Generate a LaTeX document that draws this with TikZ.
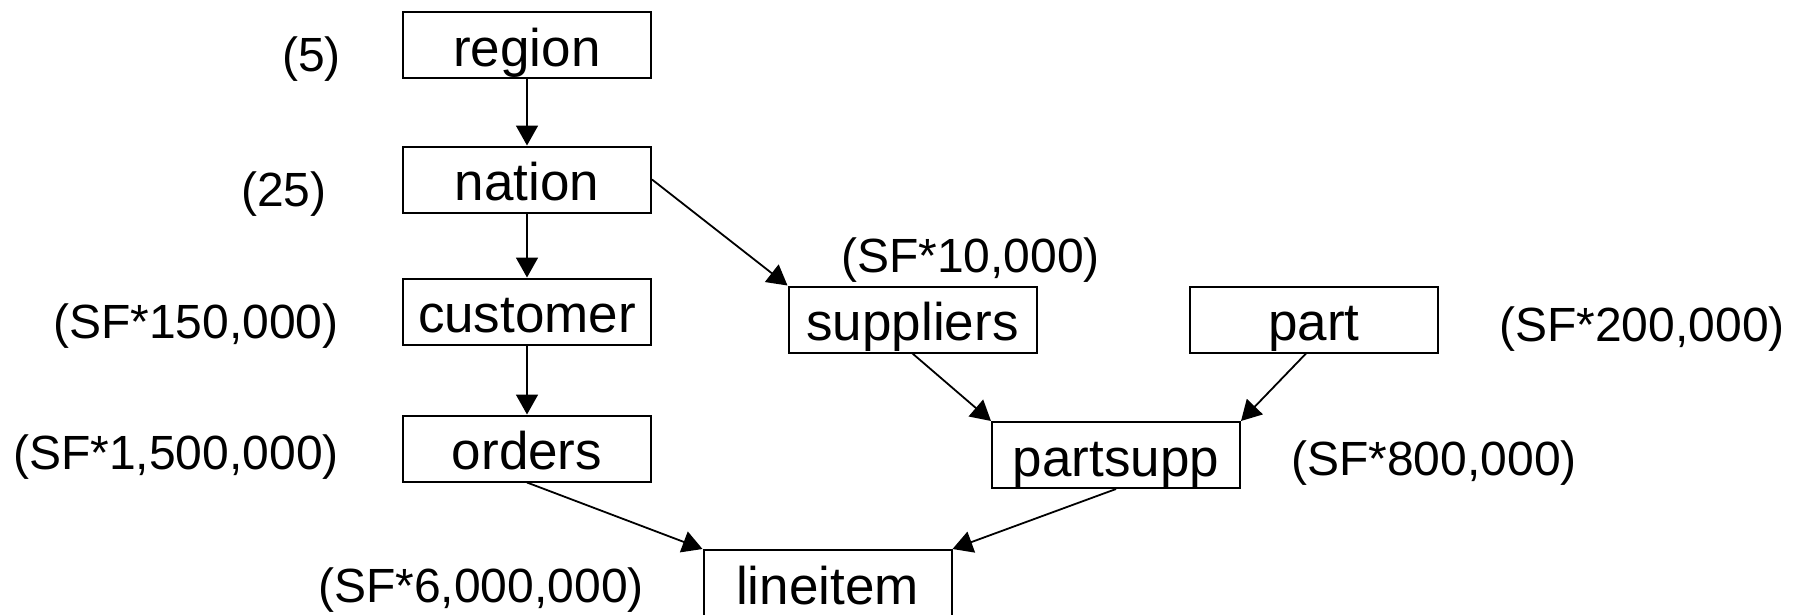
\documentclass[tikz,border=0pt]{standalone}
\usepackage{fontspec}
\setmainfont{Liberation Sans}
\usetikzlibrary{arrows.meta}
\begin{document}
\begin{tikzpicture}[x=1pt,y=-1pt,
  tbl/.style={draw, line width=2pt, inner sep=0pt, minimum width=248pt,
    text height=54pt, text depth=12pt, font=\fontsize{53}{60}\selectfont},
  card/.style={anchor=west, inner sep=0pt, font=\fontsize{48}{56}\selectfont},
  link/.style={line width=1.8pt, -{Triangle[length=20pt,width=22pt]}}]
\useasboundingbox (0,0) rectangle (1801,614);
\clip (0,0) rectangle (1801,614);
% tables
\node[tbl] (region)    at (527,45)    {region};
\node[tbl] (nation)    at (527,179.5) {nation};
\node[tbl] (customer)  at (527,311.5) {customer};
\node[tbl] (orders)    at (527,448.5) {orders};
\node[tbl] (suppliers) at (912.5,319.5) {suppliers};
\node[tbl] (part)      at (1314,319.5) {part};
\node[tbl] (partsupp)  at (1116,455)  {partsupp};
\node[tbl] (lineitem)  at (827.5,583) {lineitem};
% cardinalities
\node[card] (c5)   at (282,59)  {(5)};
\node[card] (c25)  at (241,194) {(25)};
\node[card] (c150) at (53,326)  {(SF*150,000)};
\node[card] (c1500) at (13,457) {(SF*1,500,000)};
\node[card] (c10)  at (841,260) {(SF*10,000)};
\node[card] (c200) at (1499,329) {(SF*200,000)};
\node[card] (c800) at (1291,463) {(SF*800,000)};
\node[card] (c6000) at (318,590) {(SF*6,000,000)};
% connectors
\coordinate (partout) at ([xshift=-8pt]part.south);
\draw[link] (region.south) -- (nation.north);
\draw[link] (nation.south) -- (customer.north);
\draw[link] (customer.south) -- (orders.north);
\draw[link] (nation.east) -- (suppliers.north west);
\draw[link] (suppliers.south) -- (partsupp.north west);
\draw[link] (partout) -- (partsupp.north east);
\draw[link] (orders.south) -- (lineitem.north west);
\draw[link] (partsupp.south) -- (lineitem.north east);
\end{tikzpicture}
\end{document}
